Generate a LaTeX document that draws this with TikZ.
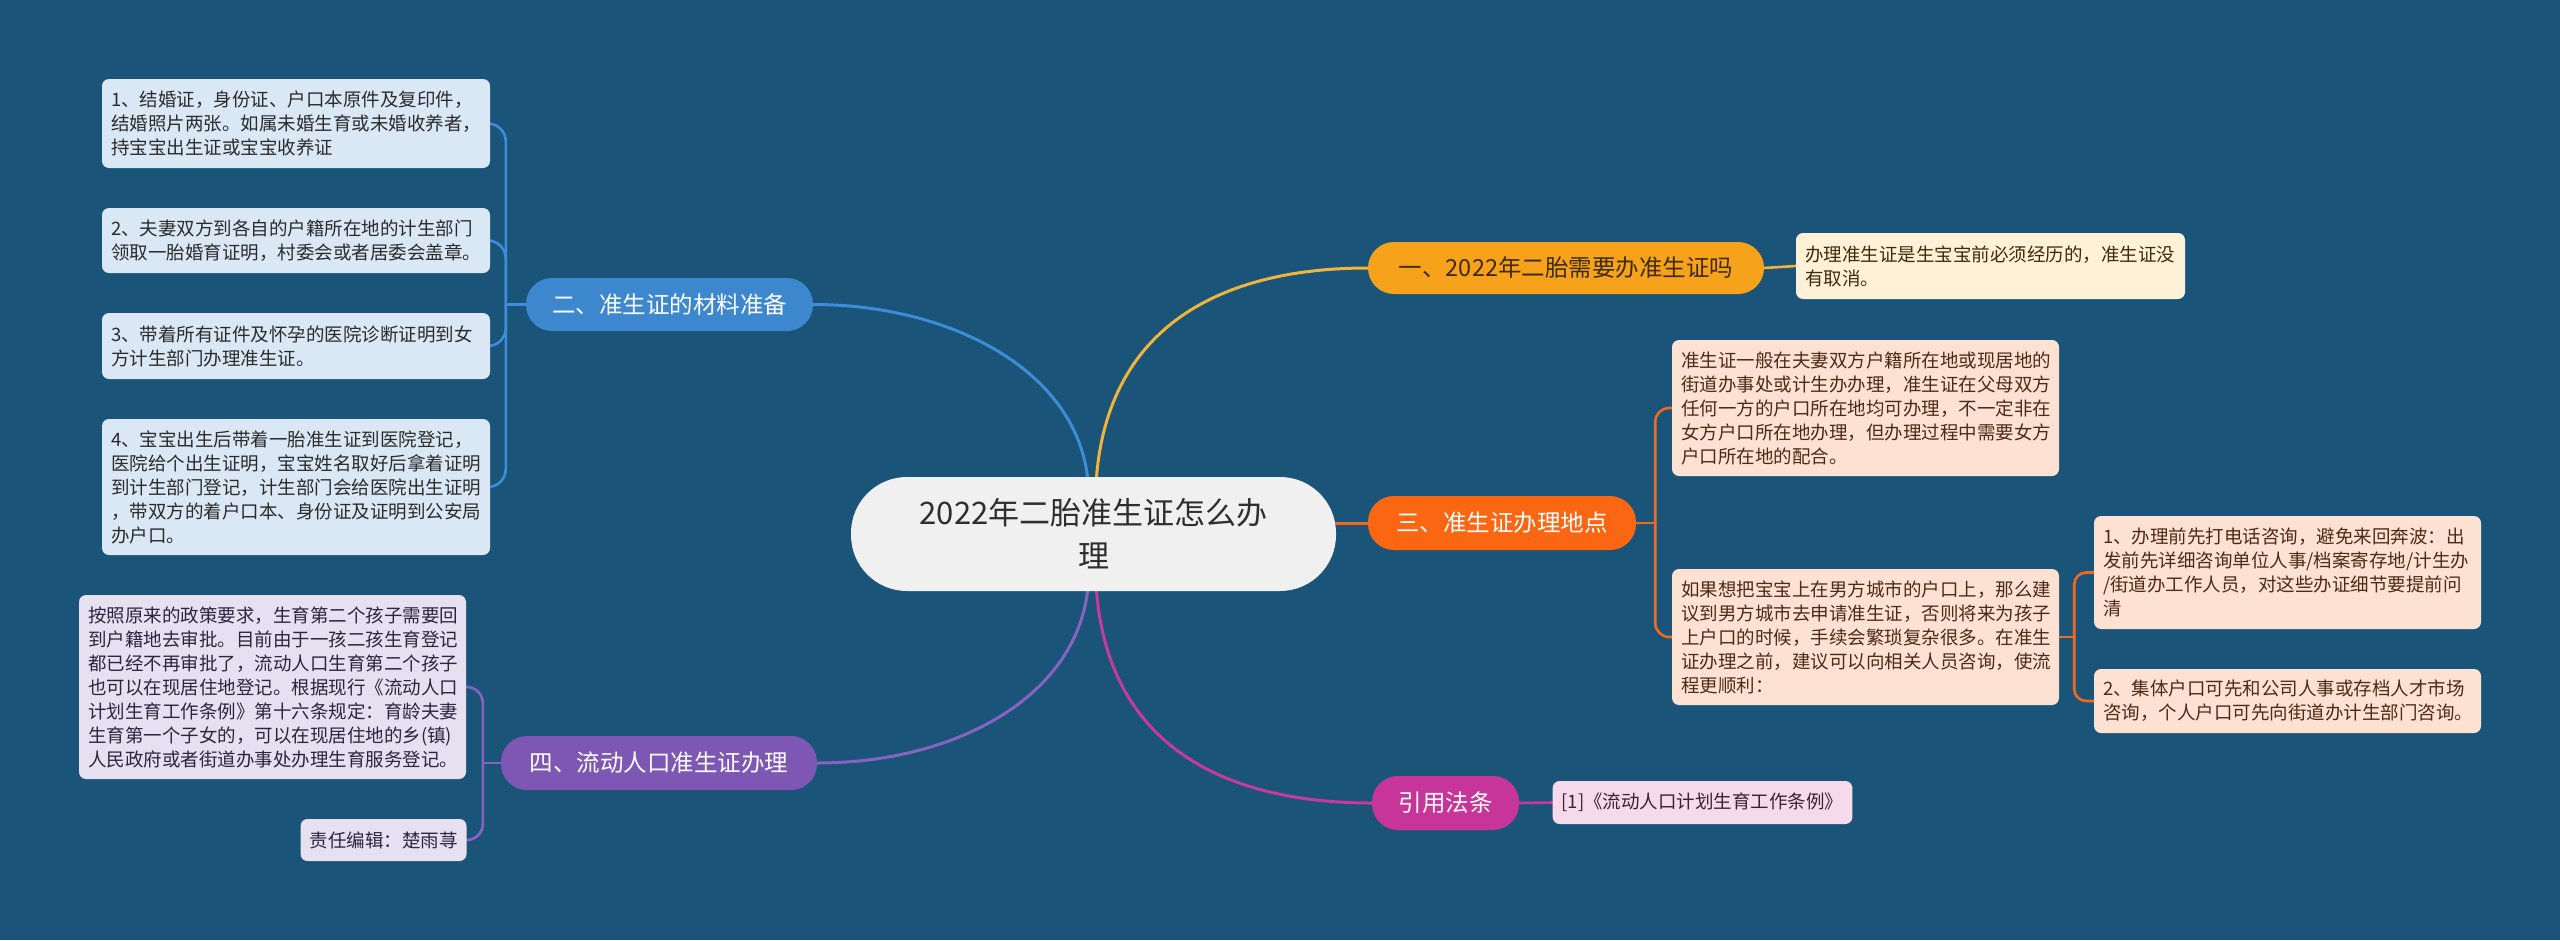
\documentclass[tikz,border=0pt]{standalone}
\usepackage{fontspec}
\setmainfont{Noto Sans CJK SC}
\usetikzlibrary{calc}
\pgfdeclarelayer{back}
\pgfdeclarelayer{lines}
\pgfsetlayers{back,lines,main}
\definecolor{bgc}{HTML}{1B5479}
\definecolor{cfill}{HTML}{F0F0F0}
\definecolor{ctext}{HTML}{2E2E2E}
\definecolor{yfill}{HTML}{F7A21B}
\definecolor{yline}{HTML}{F0B43C}
\definecolor{yleaf}{HTML}{FEF1D8}
\definecolor{ytext}{HTML}{3D2B0B}
\definecolor{bfill}{HTML}{3D87CF}
\definecolor{bline}{HTML}{3D8CD6}
\definecolor{bleaf}{HTML}{DAE8F6}
\definecolor{btext}{HTML}{2B2B2B}
\definecolor{ofill}{HTML}{FA6612}
\definecolor{oline}{HTML}{EE6A1F}
\definecolor{oleaf}{HTML}{FDE2D3}
\definecolor{otext}{HTML}{4D2A16}
\definecolor{pfill}{HTML}{7E57B5}
\definecolor{pline}{HTML}{8763C0}
\definecolor{pleaf}{HTML}{E6E0F0}
\definecolor{ptext}{HTML}{2D2540}
\definecolor{mfill}{HTML}{C8359A}
\definecolor{mline}{HTML}{C53A9A}
\definecolor{mleaf}{HTML}{F6DAEC}
\definecolor{mtext}{HTML}{3A2233}
\begin{document}
\begin{tikzpicture}[x=1pt,y=-1pt,
  leaf/.style={rounded corners=7pt, inner xsep=9pt, inner ysep=0pt, align=left,
    font=\fontsize{18.5pt}{24pt}\selectfont},
  branch/.style={rounded corners=26pt, inner sep=0pt, align=center,
    font=\fontsize{23.5pt}{28pt}\selectfont},
  conn/.style={line width=3pt, line cap=round},
  sub/.style={line width=2.6pt, line cap=round}
]
\useasboundingbox (0,0) rectangle (2560,940);
\begin{pgfonlayer}{back}
\fill[bgc] (0,0) rectangle (2560,940);
\end{pgfonlayer}

% central
\node[fill=cfill, text=ctext, rounded corners=56pt, minimum width=485pt, minimum height=114pt,
  inner sep=0pt, align=center, font=\fontsize{31pt}{43pt}\selectfont] (c) at (1093.5,534)
  {2022年二胎准生证怎么办\\理};

% branches
\node[branch, fill=yfill, text=ytext, minimum width=396pt, minimum height=52pt] (b1) at (1566,268) {一、2022年二胎需要办准生证吗};
\node[branch, fill=bfill, text=white, minimum width=287pt, minimum height=53pt] (b2) at (669.5,304.5) {二、准生证的材料准备};
\node[branch, fill=ofill, text=white, minimum width=268pt, minimum height=54pt] (b3) at (1502,523) {三、准生证办理地点};
\node[branch, fill=pfill, text=white, minimum width=316pt, minimum height=54pt] (b4) at (659,763) {四、流动人口准生证办理};
\node[branch, fill=mfill, text=white, minimum width=147pt, minimum height=54pt] (b5) at (1445.5,803) {引用法条};

% leaves branch 2
\node[leaf, fill=bleaf, text=btext, text width=370pt, minimum height=89pt] (l1) at (296,123.5)
  {1、结婚证，身份证、户口本原件及复印件，\\结婚照片两张。如属未婚生育或未婚收养者，\\持宝宝出生证或宝宝收养证};
\node[leaf, fill=bleaf, text=btext, text width=370pt, minimum height=65pt] (l2) at (296,240.5)
  {2、夫妻双方到各自的户籍所在地的计生部门\\领取一胎婚育证明，村委会或者居委会盖章。};
\node[leaf, fill=bleaf, text=btext, text width=370pt, minimum height=66pt] (l3) at (296,346)
  {3、带着所有证件及怀孕的医院诊断证明到女\\方计生部门办理准生证。};
\node[leaf, fill=bleaf, text=btext, text width=370pt, minimum height=136pt] (l4) at (296,487)
  {4、宝宝出生后带着一胎准生证到医院登记，\\医院给个出生证明，宝宝姓名取好后拿着证明\\到计生部门登记，计生部门会给医院出生证明\\，带双方的着户口本、身份证及证明到公安局\\办户口。};

% leaf branch 1
\node[leaf, fill=yleaf, text=ytext, text width=371pt, minimum height=66pt] (l1a) at (1990.5,266)
  {办理准生证是生宝宝前必须经历的，准生证没\\有取消。};

% leaves branch 3
\node[leaf, fill=oleaf, text=otext, text width=369pt, minimum height=136pt] (l3a) at (1865.5,408)
  {准生证一般在夫妻双方户籍所在地或现居地的\\街道办事处或计生办办理，准生证在父母双方\\任何一方的户口所在地均可办理，不一定非在\\女方户口所在地办理，但办理过程中需要女方\\户口所在地的配合。};
\node[leaf, fill=oleaf, text=otext, text width=369pt, minimum height=136pt] (l3b) at (1865.5,637)
  {如果想把宝宝上在男方城市的户口上，那么建\\议到男方城市去申请准生证，否则将来为孩子\\上户口的时候，手续会繁琐复杂很多。在准生\\证办理之前，建议可以向相关人员咨询，使流\\程更顺利：};
\node[leaf, fill=oleaf, text=otext, text width=369pt, minimum height=113pt] (l3b1) at (2287.5,572.5)
  {1、办理前先打电话咨询，避免来回奔波：出\\发前先详细咨询单位人事/档案寄存地/计生办\\/街道办工作人员，对这些办证细节要提前问\\清};
\node[leaf, fill=oleaf, text=otext, text width=369pt, minimum height=64pt] (l3b2) at (2287.5,701)
  {2、集体户口可先和公司人事或存档人才市场\\咨询，个人户口可先向街道办计生部门咨询。};

% leaf branch 5
\node[leaf, fill=mleaf, text=mtext, minimum width=295pt, minimum height=43pt, align=center] (l5) at (1702.5,802.5)
  {[1]《流动人口计划生育工作条例》};

% leaves branch 4
\node[leaf, fill=pleaf, text=ptext, text width=369pt, minimum height=184pt] (l4a) at (272.5,687)
  {按照原来的政策要求，生育第二个孩子需要回\\到户籍地去审批。目前由于一孩二孩生育登记\\都已经不再审批了，流动人口生育第二个孩子\\也可以在现居住地登记。根据现行《流动人口\\计划生育工作条例》第十六条规定：育龄夫妻\\生育第一个子女的，可以在现居住地的乡(镇)\\人民政府或者街道办事处办理生育服务登记。};
\node[leaf, fill=pleaf, text=ptext, minimum width=165pt, minimum height=42pt, align=center] (l4b) at (383.5,840)
  {责任编辑：楚雨荨};

\begin{pgfonlayer}{lines}
% central to branches
\draw[conn, bline] ($(c.north)+(-6,0)$) .. controls +(-13,-107) and +(137,0) .. (b2.east);
\draw[conn, yline] ($(c.north)+(3,0)$) .. controls +(13,-157) and +(-138,0) .. (b1.west);
\draw[conn, oline] (c.east |- b3.west) -- (b3.west);
\draw[conn, pline] ($(c.south)+(-6,0)$) .. controls +(-13,107) and +(137,0) .. (b4.east);
\draw[conn, mline] ($(c.south)+(3,0)$) .. controls +(13,160) and +(-140,0) .. (b5.west);

% branch to leaves
\draw[sub, yline] (b1.east) -- (l1a.west);
\draw[sub, mline] (b5.east) -- (l5.west);

\draw[sub, bline] (b2.west) -- ([xshift=-20pt]b2.west);
\foreach \l in {l1,l2,l3,l4}
  \draw[sub, bline, rounded corners=18pt] ([xshift=-20pt]b2.west) |- (\l.east);

\draw[sub, oline] (b3.east) -- ([xshift=19pt]b3.east);
\foreach \l in {l3a,l3b}
  \draw[sub, oline, rounded corners=14pt] ([xshift=19pt]b3.east) |- (\l.west);

\draw[sub, oline] (l3b.east) -- ([xshift=15pt]l3b.east);
\foreach \l in {l3b1,l3b2}
  \draw[sub, oline, rounded corners=12pt] ([xshift=15pt]l3b.east) |- (\l.west);

\draw[sub, pline] (b4.west) -- ([xshift=-18pt]b4.west);
\foreach \l in {l4a,l4b}
  \draw[sub, pline, rounded corners=16pt] ([xshift=-18pt]b4.west) |- (\l.east);
\end{pgfonlayer}
\end{tikzpicture}
\end{document}
